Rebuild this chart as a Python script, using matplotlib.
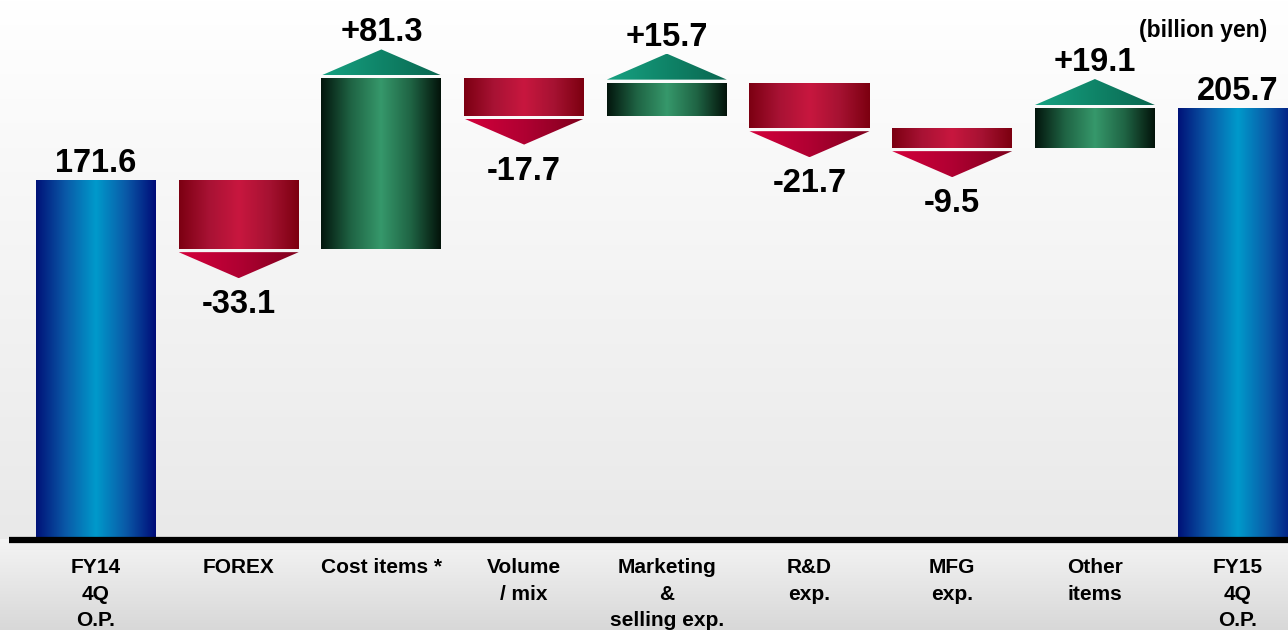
import matplotlib
matplotlib.use("Agg")
import matplotlib.pyplot as plt
from matplotlib.colors import LinearSegmentedColormap
from matplotlib.patches import Polygon, Rectangle
import numpy as np

plt.rcParams['font.family'] = ['Liberation Sans', 'DejaVu Sans']

categories = ["FY14\n4Q\nO.P.", "FOREX", "Cost items *", "Volume\n/ mix",
              "Marketing\n&\nselling exp.", "R&D\nexp.", "MFG\nexp.",
              "Other\nitems", "FY15\n4Q\nO.P."]
start_total = 171.6
changes = [-33.1, 81.3, -17.7, 15.7, -21.7, -9.5, 19.1]
end_total = 205.7
unit_label = "(billion yen)"

# pixel geometry (100 dpi, 1288x630)
W, H = 12.88, 6.30
PX_Y = 1 / 2.1          # value units per pixel vertically
STEP = 142.7            # pixels between bar centres
BAR_W = 120 / STEP
GAP = 3 * PX_Y
TRI_H = 26 * PX_Y

blue = LinearSegmentedColormap.from_list("b", ["#001278", "#0a5aa8", "#009acb", "#0a5aa8", "#000c78"])
red = LinearSegmentedColormap.from_list("r", ["#7c0012", "#a81234", "#c8173f", "#a61232", "#7c0010"])
green = LinearSegmentedColormap.from_list("g", ["#03160d", "#1f6444", "#36986b", "#1f6444", "#03130a"])
red_tri = LinearSegmentedColormap.from_list("rt", ["#d4003c", "#b00032", "#7e001c"])
green_tri = LinearSegmentedColormap.from_list("gt", ["#17a282", "#0f8468", "#0a6650"])
bg_top = LinearSegmentedColormap.from_list("bg", ["#e9e9e9", "#ffffff"])
bg_bot = LinearSegmentedColormap.from_list("bb", ["#d8d8d8", "#f4f4f4"])

fig = plt.figure(figsize=(W, H), dpi=100)
ax = fig.add_axes([0, 0, 1, 1])
ax.set_axis_off()
x0 = -96 / STEP
x1 = (1288 - 96) / STEP
y0 = -90 * PX_Y
y1 = 540 * PX_Y
ax.set_xlim(x0, x1)
ax.set_ylim(y0, y1)

grad = np.linspace(0, 1, 256).reshape(-1, 1)
ax.imshow(grad, cmap=bg_top, extent=(x0, x1, 0, y1), origin="lower", aspect="auto", zorder=0)
ax.imshow(grad, cmap=bg_bot, extent=(x0, x1, y0, 0), origin="lower", aspect="auto", zorder=0)

hgrad = np.linspace(0, 1, 256).reshape(1, -1)


def fill_patch(patch, cmap):
    ax.add_patch(patch)
    patch.set_facecolor("none")
    patch.set_edgecolor("none")
    ext = patch.get_path().get_extents(patch.get_patch_transform() if isinstance(patch, Rectangle) else None)
    im = ax.imshow(hgrad, cmap=cmap, extent=(ext.x0, ext.x1, ext.y0, ext.y1),
                   origin="lower", aspect="auto", zorder=2)
    im.set_clip_path(patch)


label_kw = dict(ha="center", fontsize=23.5, fontweight="bold", color="black", zorder=3)

# totals
for i, val in [(0, start_total), (8, end_total)]:
    fill_patch(Rectangle((i - BAR_W / 2, 0), BAR_W, val), blue)
    ax.text(i, val + 1 * PX_Y, f"{val:.1f}", va="bottom", **label_kw)

# changes
level = start_total
for k, ch in enumerate(changes):
    i = k + 1
    lo, hi = sorted([level, level + ch])
    left, right = i - BAR_W / 2, i + BAR_W / 2
    if ch > 0:
        fill_patch(Rectangle((left, lo), BAR_W, hi - lo), green)
        base = hi + GAP
        tri = Polygon([(left, base), (right, base), (i, base + TRI_H)], closed=True)
        fill_patch(tri, green_tri)
        ax.text(i, base + TRI_H + 1 * PX_Y, f"+{ch:.1f}", va="bottom", **label_kw)
    else:
        fill_patch(Rectangle((left, lo), BAR_W, hi - lo), red)
        base = lo - GAP
        tri = Polygon([(left, base), (right, base), (i, base - TRI_H)], closed=True)
        fill_patch(tri, red_tri)
        ax.text(i, base - TRI_H - 11 * PX_Y, f"{ch:.1f}", va="top", **label_kw)
    level += ch

# baseline
ax.plot([x0 + 9 / STEP, x1], [0, 0], color="black", lw=4.5, solid_capstyle="butt", zorder=4)

for i, cat in enumerate(categories):
    ax.text(i, -18 * PX_Y, cat, ha="center", va="top", fontsize=15, fontweight="bold",
            linespacing=1.5, zorder=3)

ax.text(x0 + 1267 / STEP, y1 - 31 * PX_Y, unit_label, ha="right", va="center",
        fontsize=16.5, fontweight="bold", zorder=3)

fig.savefig("out.png", dpi=100)
